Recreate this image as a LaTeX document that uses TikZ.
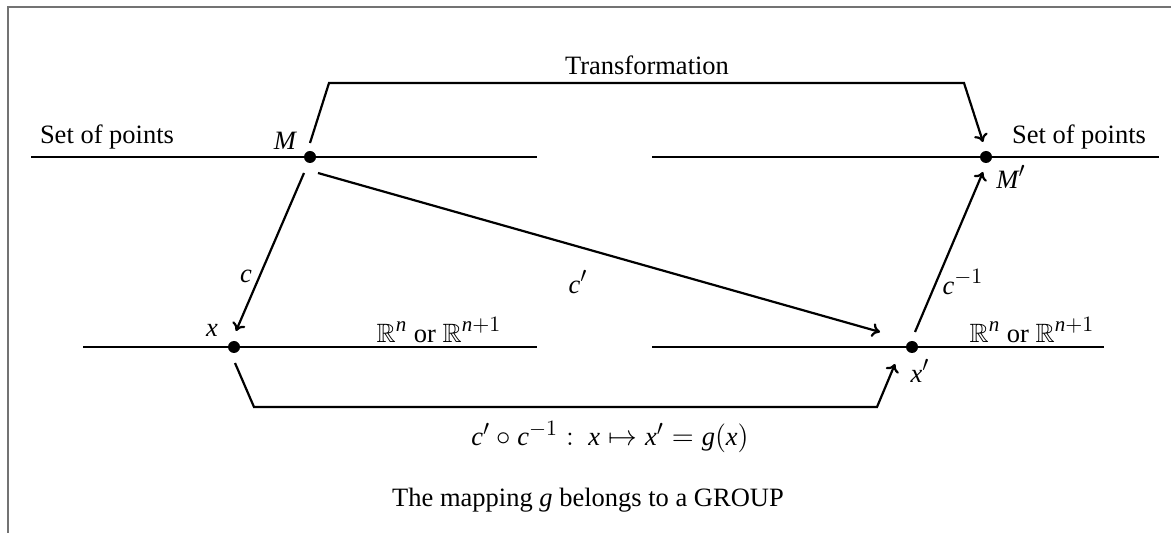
\documentclass[tikz,border=0pt]{standalone}
\usepackage{amssymb}
\usepackage{fontspec}
\setmainfont{Liberation Serif}
\DeclareMathSizes{13.25}{13.25}{10.5}{8}
\usetikzlibrary{arrows.meta}
\begin{document}
\begin{tikzpicture}[x=0.5pt,y=-0.5pt,
  every node/.style={font=\fontsize{13.25}{16}\selectfont},
  axis/.style={line width=1.1pt},
  conn/.style={line width=1.1pt,-{To[length=4pt,width=7pt]}},
  pt/.style={circle,fill=black,inner sep=0pt,minimum size=6pt},
  frame/.style={draw=black!55,line width=1pt}]
\useasboundingbox (0,0) rectangle (1171,533);
\draw[frame] (1171,7) -- (8,7) -- (8,533);
% axes
\coordinate (a1) at (31,157); \coordinate (a2) at (537,157);
\coordinate (b1) at (652,157); \coordinate (b2) at (1159,157);
\coordinate (c1) at (83,347); \coordinate (c2) at (537,347);
\coordinate (d1) at (652,347); \coordinate (d2) at (1104,347);
\draw[axis] (a1) -- (a2);
\draw[axis] (b1) -- (b2);
\draw[axis] (c1) -- (c2);
\draw[axis] (d1) -- (d2);
% points
\node[pt] (M) at (310,157) {};
\node[pt] (Mp) at (986,157) {};
\node[pt] (x) at (234,347) {};
\node[pt] (xp) at (912,347) {};
% labels
\node (sl) at (107,137) {Set of points};
\node (sr) at (1079,137) {Set of points};
\node (lM) at (285,141) {$\mathit{M}$};
\node (lMp) at (1011,177) {$\mathit{M}'$};
\node (lx) at (212,330) {$\mathit{x}$};
\node (lxp) at (920,371) {$\mathit{x}'$};
\node (rl) at (439,330) {$\mathbb{R}^{\mathit{n}}$ or $\mathbb{R}^{\mathit{n}+1}$};
\node (rr) at (1032,330) {$\mathbb{R}^{\mathit{n}}$ or $\mathbb{R}^{\mathit{n}+1}$};
\node (tr) at (647,65) {Transformation};
\node (lc) at (246,276) {$\mathit{c}$};
\node (lcp) at (578,282) {$\mathit{c}'$};
\node (lci) at (963,282) {$\mathit{c}^{-1}$};
\node (form) at (610,437) {$\mathit{c}'\circ \mathit{c}^{-1}:\ \mathit{x}\mapsto \mathit{x}'=\mathit{g}(\mathit{x})$};
\node (grp) at (588,500) {The mapping $\mathit{g}$ belongs to a GROUP};
% connectors
\coordinate (t0) at (310,143); \coordinate (t1) at (329,83);
\coordinate (t2) at (964,83); \coordinate (t3) at (983,142);
\draw[conn] (t0) -- (t1) -- (t2) -- (t3);
\coordinate (cs) at (304,173); \coordinate (ce) at (236,331);
\draw[conn] (cs) -- (ce);
\coordinate (ps) at (318,173); \coordinate (pe) at (880,332);
\draw[conn] (ps) -- (pe);
\coordinate (is) at (915,332); \coordinate (ie) at (983,172);
\draw[conn] (is) -- (ie);
\coordinate (g0) at (235,363); \coordinate (g1) at (254,407);
\coordinate (g2) at (877,407); \coordinate (g3) at (895,364);
\draw[conn] (g0) -- (g1) -- (g2) -- (g3);
\end{tikzpicture}
\end{document}
